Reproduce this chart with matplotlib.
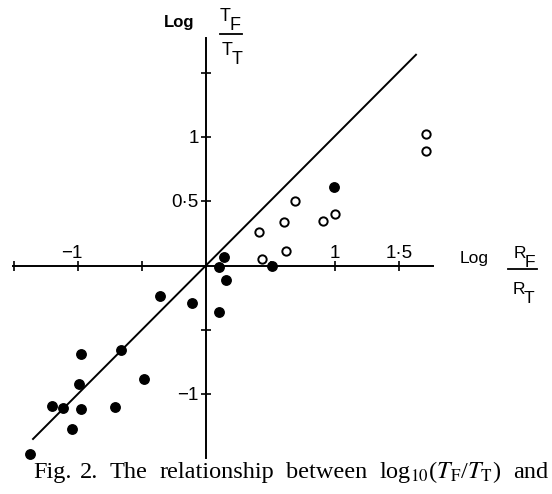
import matplotlib
matplotlib.use("Agg")
import matplotlib.pyplot as plt
from matplotlib.lines import Line2D

plt.rcParams["font.family"] = ["Liberation Sans", "DejaVu Sans"]
plt.rcParams["mathtext.fontset"] = "stix"

# ── Datos (log R_F/R_T, log T_F/T_T) ─────────────────────────────────────────
filled_x = [-1.37, -1.20, -1.12, -1.05, -0.98, -0.99, -0.98, -0.71, -0.665,
            -0.49, -0.36, -0.11, 0.095, 0.095, 0.137, 0.149, 0.51, 0.995]
filled_y = [-1.465, -1.09, -1.11, -1.27, -1.12, -0.925, -0.69, -1.10, -0.658,
            -0.886, -0.24, -0.29, -0.364, -0.014, 0.069, -0.113, 0.0, 0.611]

open_x = [0.41, 0.43, 0.60, 0.62, 0.69, 0.91, 1.00, 1.71, 1.71]
open_y = [0.26, 0.05, 0.335, 0.115, 0.505, 0.35, 0.40, 1.02, 0.89]

line_x = [-1.35, 1.63]
line_y = [-1.35, 1.64]

xticks = [-1.5, -1.0, -0.5, 0.5, 1.0, 1.5]
yticks = [-1.0, -0.5, 0.5, 1.0, 1.5]
xticklabels = {-1.0: "\u22121", 1.0: "1", 1.5: "1\u00b75"}
yticklabels = {-1.0: "\u22121", 0.5: "0\u00b75", 1.0: "1"}

# pie de figura, palabra a palabra (texto justificado)
caption_words = ["Fig.", "2.", "The", "relationship", "between",
                 r"log$_{10}$($T_{\mathrm{F}}$/$T_{\mathrm{T}}$)", "and"]
caption_gap_weight = [0.7, 1.0, 1, 1, 1, 1]

# ── Figura ────────────────────────────────────────────────────────────────────
W, H = 552, 494
ORIG_X, ORIG_Y, SCALE = 206.5, 265.5, 128.5   # pixels

fig = plt.figure(figsize=(W / 100, H / 100), dpi=100)
ax = fig.add_axes([0, 0, 1, 1])
ax.set_xlim(-ORIG_X / SCALE, (W - ORIG_X) / SCALE)
ax.set_ylim(-(H - ORIG_Y) / SCALE, ORIG_Y / SCALE)
ax.axis("off")


def px(x, y):
    """pixel (origen arriba-izquierda) -> fracción de figura"""
    return x / W, 1 - y / H


# ejes cruzados
ax.plot([-1.505, 1.765], [0, 0], color="black", lw=1.4, zorder=2)
ax.plot([0, 0], [-1.495, 1.77], color="black", lw=1.4, zorder=2)
ax.plot(xticks, [0] * len(xticks), ls="none", marker="|", ms=6.5,
        mew=1.2, color="black", zorder=2)
ax.plot([0] * len(yticks), yticks, ls="none", marker="_", ms=6.5,
        mew=1.2, color="black", zorder=2)

for v, lab in xticklabels.items():
    xoff = -0.045 if lab.startswith("\u2212") else 0
    ax.text(v + xoff, 0.062, lab, ha="center", va="baseline", fontsize=13.5)
for v, lab in yticklabels.items():
    ax.text(-0.062, v - 0.012, lab, ha="right", va="center", fontsize=13.5)

# recta y = x
ax.plot(line_x, line_y, color="black", lw=1.4, zorder=3)

# puntos
ax.plot(filled_x, filled_y, ls="none", marker="o", ms=6.8,
        color="black", zorder=4)
ax.plot(open_x, open_y, ls="none", marker="o", ms=6.0, mew=1.4,
        markerfacecolor="white", markeredgecolor="black", zorder=4)

# ── Etiquetas de ejes ─────────────────────────────────────────────────────────
fs_lab = 13
fig.text(*px(164, 26.5), "Log", fontsize=12, fontweight="bold",
         va="baseline", ha="left")
fig.text(*px(219.5, 21), "T", fontsize=fs_lab, va="baseline", ha="left")
fig.text(*px(229.5, 29.5), "F", fontsize=fs_lab, va="baseline", ha="left")
fig.add_artist(Line2D([220 / W, 242 / W], [1 - 34.3 / H] * 2,
                      color="black", lw=1.3))
fig.text(*px(221.5, 55), "T", fontsize=fs_lab, va="baseline", ha="left")
fig.text(*px(231.5, 63.5), "T", fontsize=fs_lab, va="baseline", ha="left")

fs_xl = 12.5
fig.text(*px(460, 263.5), "Log", fontsize=fs_xl, va="baseline", ha="left")
fig.text(*px(514, 258.5), "R", fontsize=fs_xl, va="baseline", ha="left")
fig.text(*px(525, 267), "F", fontsize=fs_xl, va="baseline", ha="left")
fig.add_artist(Line2D([508 / W, 537 / W], [1 - 268.5 / H] * 2,
                      color="black", lw=1.3))
fig.text(*px(512.5, 293.5), "R", fontsize=fs_xl, va="baseline", ha="left")
fig.text(*px(523.5, 303), "T", fontsize=fs_xl, va="baseline", ha="left")

# ── Pie de figura (justificado entre x=33 y x=548) ────────────────────────────
cap_texts = [fig.text(*px(33, 478), w, fontsize=17.5, family="Liberation Serif",
                      va="baseline", ha="left") for w in caption_words]
renderer = fig.canvas.get_renderer()
widths = [t.get_window_extent(renderer).width for t in cap_texts]
free = (548 - 33) - sum(widths)
unit = free / sum(caption_gap_weight)
left = 33.0
for i, t in enumerate(cap_texts):
    t.set_position(px(left, 478))
    if i < len(caption_gap_weight):
        left += widths[i] + unit * caption_gap_weight[i]

fig.savefig("out.png", dpi=100)
